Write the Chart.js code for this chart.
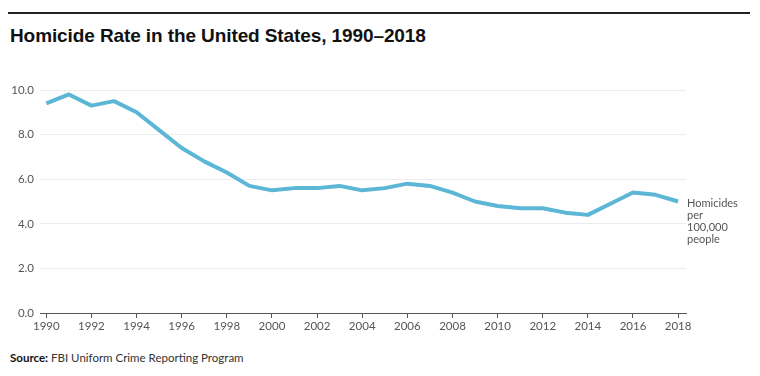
<!DOCTYPE html>
<html>
<head>
<meta charset="utf-8">
<script src="https://cdn.jsdelivr.net/npm/chart.js@4"></script>
<style>
  html, body { margin: 0; padding: 0; background: #fff; }
  body { width: 760px; height: 376px; position: relative; overflow: hidden; }
  .rule { position: absolute; left: 8px; top: 12px; width: 742px; height: 2px; background: #222; }
  .title { position: absolute; left: 10px; top: 25px; font-family: "Liberation Sans", sans-serif; font-weight: bold; font-size: 19px; color: #111; letter-spacing: -0.1px; }
  .source { position: absolute; left: 10px; top: 351px; font-family: "Lato", sans-serif; font-size: 11.5px; color: #333; }
  .source b { color: #111; }
  .wrap { position: absolute; left: 0; top: 70px; width: 760px; height: 270px; }
</style>
</head>
<body>
<div class="rule"></div>
<div class="title">Homicide Rate in the United States, 1990–2018</div>
<div class="wrap"><canvas id="chart_homicideRate"></canvas></div>
<div class="source"><b>Source:</b> FBI Uniform Crime Reporting Program</div>
<script>
var years = [1990, 1991, 1992, 1993, 1994, 1995, 1996, 1997, 1998, 1999, 2000, 2001, 2002, 2003, 2004,
             2005, 2006, 2007, 2008, 2009, 2010, 2011, 2012, 2013, 2014, 2015, 2016, 2017, 2018];
var homicideRate = [9.4, 9.8, 9.3, 9.5, 9.0, 8.2, 7.4, 6.8, 6.3, 5.7, 5.5, 5.6, 5.6, 5.7, 5.5,
                    5.6, 5.8, 5.7, 5.4, 5.0, 4.8, 4.7, 4.7, 4.5, 4.4, 4.9, 5.4, 5.3, 5.0];
var xTickYears = [1990, 1992, 1994, 1996, 1998, 2000, 2002, 2004, 2006, 2008, 2010, 2012, 2014, 2016, 2018];
var yTickValues = [0, 2, 4, 6, 8, 10];
var seriesNote = ['Homicides', 'per', '100,000', 'people'];

var chart_homicideRate = new Chart(document.getElementById('chart_homicideRate'), {
    type: 'line',
    data: {
        datasets: [
            {
                label: 'Homicide rate',
                data: years.map(function(y, i) { return { x: y, y: homicideRate[i] }; }),
                borderColor: '#5cb6d6',
                borderWidth: 4,
                pointRadius: 0,
                tension: 0,
                borderJoinStyle: 'round',
                borderCapStyle: 'butt'
            }
        ]
    },
    options: {
        animation: false,
        responsive: true,
        maintainAspectRatio: false,
        layout: { padding: { top: 20, right: 74, left: 0, bottom: 0 } },
        plugins: {
            legend: { display: false },
            tooltip: { enabled: false }
        },
        scales: {
            x: {
                type: 'linear',
                min: 1989.72,
                max: 2018.35,
                afterBuildTicks: function(scale) {
                    scale.ticks = xTickYears.map(function(v) { return { value: v }; });
                },
                afterFit: function(scale) { scale.height = 27; },
                grid: {
                    drawOnChartArea: false,
                    drawTicks: true,
                    tickLength: 5,
                    color: '#555'
                },
                border: { display: true, color: '#555', width: 1 },
                ticks: {
                    autoSkip: false,
                    maxRotation: 0,
                    padding: 1,
                    color: '#555',
                    font: { family: 'Lato', size: 11.5 },
                    callback: function(value) { return String(value); }
                }
            },
            y: {
                type: 'linear',
                min: 0,
                max: 10,
                afterBuildTicks: function(scale) {
                    scale.ticks = yTickValues.map(function(v) { return { value: v }; });
                },
                afterFit: function(scale) { scale.width = 40; },
                grid: {
                    color: function(ctx) { return ctx.tick && ctx.tick.value === 0 ? 'rgba(0,0,0,0)' : '#ececec'; },
                    drawTicks: false
                },
                border: { display: false },
                ticks: {
                    padding: 6,
                    color: '#555',
                    font: { family: 'Lato', size: 11.5 },
                    callback: function(value) { return value.toFixed(1); }
                }
            }
        }
    },
    plugins: [{
        id: 'seriesNote',
        afterDatasetsDraw: function(chart) {
            var ctx = chart.ctx;
            var meta = chart.getDatasetMeta(0);
            var last = meta.data[meta.data.length - 1];
            ctx.save();
            ctx.fillStyle = '#555';
            ctx.font = '11px Lato';
            ctx.textBaseline = 'top';
            ctx.textAlign = 'left';
            seriesNote.forEach(function(line, i) {
                ctx.fillText(line, last.x + 9, last.y - 4 + i * 12);
            });
            ctx.restore();
        }
    }]
});
</script>
</body>
</html>
